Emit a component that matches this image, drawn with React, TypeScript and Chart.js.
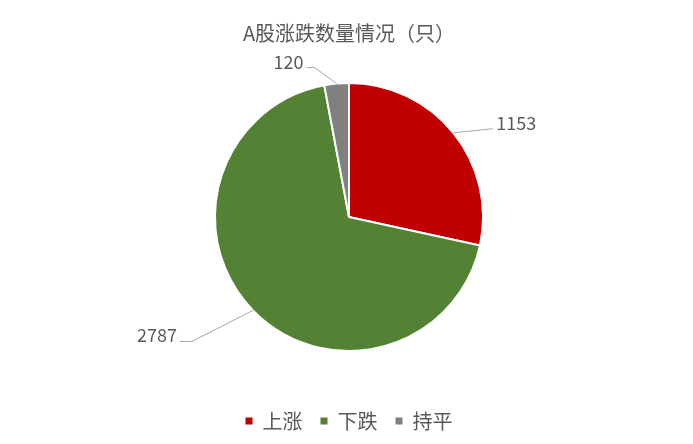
import { useEffect, useRef } from "react"
import { Chart, registerables } from "chart.js"

Chart.register(...registerables)

const TITLE = "A股涨跌数量情况（只）"
const categories = ["上涨", "下跌", "持平"]
const counts = [1153, 2787, 120]
const sliceColors = ["#C00000", "#548235", "#808080"]

const FONT = "'Noto Sans CJK SC', 'Noto Sans', sans-serif"
const TEXT_COLOR = "#595959"

// leader line bend (relative to the arc middle), length of the flat part, text side
const labelLayout = [
  { dx: 38, dy: -4, flat: 2, side: 1 },
  { dx: -61, dy: 31, flat: 12, side: -1 },
  { dx: -22, dy: -16, flat: 8, side: -1 },
]

const outsideLabels = {
  id: "outsideLabels",
  afterDatasetsDraw(chart: Chart) {
    const ctx = chart.ctx
    const meta = chart.getDatasetMeta(0)
    const values = chart.data.datasets[0].data as number[]
    ctx.save()
    ctx.font = `18px ${FONT}`
    ctx.fillStyle = TEXT_COLOR
    ctx.strokeStyle = "#A6A6A6"
    ctx.lineWidth = 1
    ctx.textBaseline = "alphabetic"
    meta.data.forEach((el, i) => {
      const { x, y, startAngle, endAngle, outerRadius } = (el as any).getProps(
        ["x", "y", "startAngle", "endAngle", "outerRadius"],
        true,
      )
      const mid = (startAngle + endAngle) / 2
      const px = x + Math.cos(mid) * outerRadius
      const py = y + Math.sin(mid) * outerRadius
      const lay = labelLayout[i]
      const ex = px + lay.dx
      const ey = py + lay.dy
      const fx = ex + lay.side * lay.flat
      ctx.beginPath()
      ctx.moveTo(px, py)
      ctx.lineTo(ex, ey)
      ctx.lineTo(fx, ey)
      ctx.stroke()
      ctx.textAlign = lay.side > 0 ? "left" : "right"
      ctx.fillText(String(values[i]), fx + lay.side * 3, ey + 1)
    })
    ctx.restore()
  },
}

export default function App() {
  const chartRef = useRef<HTMLCanvasElement>(null)
  const chartInstance = useRef<Chart | null>(null)

  useEffect(() => {
    if (!chartRef.current) return
    if (chartInstance.current) chartInstance.current.destroy()
    const ctx = chartRef.current.getContext("2d")
    if (!ctx) return

    const pieLegend = (Chart as any).overrides.pie.plugins.legend.labels.generateLabels

    chartInstance.current = new Chart(ctx, {
      type: "pie",
      data: {
        labels: categories,
        datasets: [
          {
            data: counts,
            backgroundColor: sliceColors,
            borderColor: "#FFFFFF",
            borderWidth: 2,
          },
        ],
      },
      options: {
        animation: false,
        responsive: true,
        maintainAspectRatio: false,
        radius: 134,
        layout: { padding: { left: 5, right: 0, top: 0, bottom: 0 } },
        plugins: {
          title: {
            display: true,
            text: TITLE,
            color: TEXT_COLOR,
            font: { family: FONT, size: 20, weight: "normal" },
            padding: { top: 21, bottom: -4 },
          },
          legend: {
            position: "bottom",
            labels: {
              color: TEXT_COLOR,
              font: { family: FONT, size: 20 },
              usePointStyle: true,
              pointStyle: "rect",
              boxWidth: 7,
              boxHeight: 7,
              padding: 18,
              generateLabels: (chart: Chart) =>
                pieLegend(chart).map((l: any) => ({ ...l, lineWidth: 0 })),
            },
          },
          tooltip: { enabled: false },
        },
      },
      plugins: [outsideLabels],
    })

    return () => {
      if (chartInstance.current) {
        chartInstance.current.destroy()
        chartInstance.current = null
      }
    }
  }, [])

  return (
    <div style={{ position: "fixed", left: 0, top: 0, width: 693, height: 444, background: "#fff" }}>
      <div style={{ position: "relative", width: 693, height: 441 }}>
        <canvas ref={chartRef} />
      </div>
    </div>
  )
}
